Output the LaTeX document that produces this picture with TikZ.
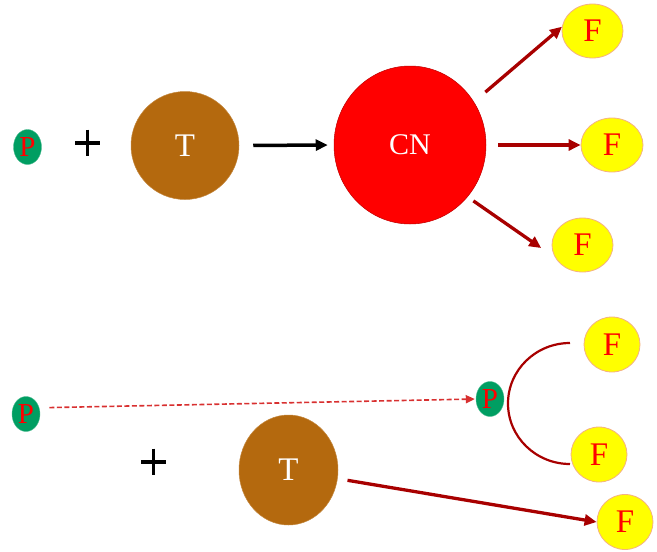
\documentclass[tikz,border=0pt]{standalone}
\usepackage{fontspec}
\setmainfont{Liberation Serif}
\usetikzlibrary{shapes.geometric,arrows.meta}
\definecolor{pgreen}{HTML}{009E62}
\definecolor{tbrown}{HTML}{B4690E}
\definecolor{fyellow}{HTML}{FFFF00}
\definecolor{fedge}{HTML}{F4B183}
\definecolor{darr}{HTML}{A80000}
\definecolor{dashred}{HTML}{D83030}
\begin{document}
\begin{tikzpicture}[x=1pt,y=1pt,
  pnode/.style={ellipse,fill=pgreen,draw=pgreen!70,line width=0.4pt,inner sep=0pt,
    minimum width=28pt,minimum height=35pt,text=red,font=\fontsize{29}{29}\selectfont},
  fnode/.style={ellipse,fill=fyellow,draw=fedge,line width=0.8pt,inner sep=0pt,
    text=red,font=\fontsize{33}{33}\selectfont},
  tnode/.style={ellipse,fill=tbrown,draw=tbrown!80!white,line width=0.5pt,inner sep=0pt,
    text=white,font=\fontsize{33}{33}\selectfont},
  redarr/.style={draw=darr,line width=3.3pt,-{Triangle[length=12pt,width=11pt]}},
  plusbar/.style={line width=3.5pt,black}]
\useasboundingbox (0,0) rectangle (657,-552);
% top row
\node[pnode] (P1) at (27.5,-147) {P};
\draw[plusbar] (75,-143) -- (100,-143);
\draw[plusbar] (87.5,-129.5) -- (87.5,-156);
\node[tnode,minimum width=108pt,minimum height=108pt] (T1) at (185,-145.5) {T};
\node[ellipse,fill=red,draw=red!75!black,line width=0.5pt,inner sep=0pt,
  minimum width=152pt,minimum height=158pt,text=white,
  font=\fontsize{30}{30}\selectfont] (CN) at (410,-145) {CN};
\node[fnode,minimum width=61pt,minimum height=54pt] (F1) at (592.5,-31) {F};
\node[fnode,minimum width=62pt,minimum height=54pt] (F2) at (612,-145) {F};
\node[fnode,minimum width=61pt,minimum height=54pt] (F3) at (582.5,-245) {F};
\draw[line width=3.5pt,black,-{Triangle[length=12pt,width=11pt]},shorten <=14pt,shorten >=6pt] (T1.east) -- (CN.west);
\draw[redarr,shorten <=15pt] (CN.34) -- (F1.172);
\draw[redarr,shorten <=12pt] (CN.east) -- (F2.west);
\draw[redarr,shorten <=7pt,shorten >=17pt] (CN.-42) -- (F3.205);
% bottom row
\node[pnode] (P2) at (26,-414) {P};
\node[pnode] (P3) at (490,-399) {P};
\draw[plusbar] (141,-462) -- (166,-462);
\draw[plusbar] (153.5,-448.5) -- (153.5,-475);
\node[tnode,minimum width=99pt,minimum height=110pt] (T2) at (288.5,-470) {T};
\node[fnode,minimum width=56pt,minimum height=55pt] (F4) at (612,-344.5) {F};
\node[fnode,minimum width=56pt,minimum height=55pt] (F5) at (599,-454.5) {F};
\node[fnode,minimum width=56pt,minimum height=55pt] (F6) at (625,-522) {F};
\draw[dashred,line width=1.6pt,dash pattern=on 5pt off 2.5pt,
  -{Triangle[length=9pt,width=8pt]},shorten <=10pt,shorten >=1pt] (P2.25) -- (P3.west);
\coordinate (arcA) at (570,-343);
\draw[darr,line width=2.2pt] (arcA) arc[start angle=90,end angle=270,x radius=62,y radius=60.5];
\draw[redarr,shorten <=10pt] (T2.-10) -- (F6.west);
\end{tikzpicture}
\end{document}
